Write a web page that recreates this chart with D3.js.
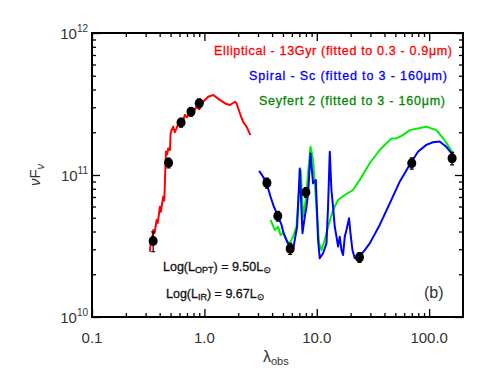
<!DOCTYPE html>
<html>
<head>
<meta charset="utf-8">
<script src="https://cdn.jsdelivr.net/npm/d3@7"></script>
<style>
body { margin: 0; background: #fff; }
text { font-family: "Liberation Sans", "DejaVu Sans", sans-serif; }
</style>
</head>
<body>
<div id="chart"></div>
<script>
// photometry points (micron, nuFnu)
let photLam = [0.35, 0.48, 0.62, 0.76, 0.90, 3.6, 4.5, 5.8, 8.0, 24, 70, 160];
let photFlux = [3.43e10, 1.22e11, 2.34e11, 2.79e11, 3.2e11, 8.8e10, 5.14e10, 3.03e10, 7.55e10, 2.63e10, 1.21e11, 1.31e11];
let photErr = [0.16, 0.08, 0.07, 0.07, 0.07, 0.08, 0.08, 0.09, 0.08, 0.08, 0.09, 0.1];

// elliptical 13 Gyr template
let ellLam = [0.328, 0.335, 0.340, 0.351, 0.360, 0.376, 0.385, 0.402, 0.410, 0.430, 0.440, 0.446, 0.455, 0.466, 0.477, 0.494, 0.500, 0.511, 0.528, 0.545, 0.566, 0.585, 0.606, 0.63, 0.671, 0.70, 0.743, 0.78, 0.852, 0.90, 0.976, 1.08, 1.20, 1.37, 1.57, 1.69, 1.87, 1.93, 2.07, 2.21, 2.37, 2.57];
let ellFlux = [2.88e10, 3.6e10, 3.3e10, 4.1e10, 3.9e10, 4.82e10, 4.6e10, 5.98e10, 5.5e10, 7.03e10, 6.6e10, 9.22e10, 1.46e11, 1.40e11, 1.54e11, 1.50e11, 1.95e11, 2.07e11, 2.19e11, 2.0e11, 2.13e11, 2.3e11, 2.37e11, 2.25e11, 2.65e11, 2.55e11, 2.79e11, 2.70e11, 3.03e11, 2.9e11, 3.28e11, 3.56e11, 3.66e11, 3.38e11, 3.16e11, 3.11e11, 3.28e11, 3.20e11, 2.72e11, 2.37e11, 2.19e11, 1.91e11];

// spiral Sc template
let spLam = [3.07, 3.33, 3.57, 3.88, 4.15, 4.53, 4.86, 5.02, 5.38, 5.75, 6.12, 6.37, 6.68, 7.06, 7.31, 7.46, 7.82, 8.10, 8.37, 8.79, 9.27, 9.80, 10.27, 10.63, 11.38, 12.2, 12.6, 13.05, 13.5, 13.96, 14.45, 14.97, 15.47, 16.01, 16.58, 17.13, 17.74, 18.37, 19.37, 19.93, 20.77, 21.77, 23.29, 26.7, 29.6, 36.3, 44.6, 54.7, 67.1, 79.5, 94.4, 108, 124, 142, 163];
let spFlux = [1.07e11, 9.73e10, 8.74e10, 7.03e10, 5.98e10, 5.09e10, 4.45e10, 3.99e10, 3.48e10, 3.05e10, 2.92e10, 3.48e10, 4.32e10, 1.11e11, 5.67e10, 3.89e10, 5.09e10, 5.98e10, 7.43e10, 1.42e11, 8.74e10, 9.22e10, 3.48e10, 2.59e10, 2.81e10, 3.30e10, 5.98e10, 1.46e11, 7.84e10, 5.98e10, 4.32e10, 3.68e10, 3.13e10, 3.68e10, 2.96e10, 2.73e10, 3.68e10, 4.10e10, 4.96e10, 3.89e10, 2.96e10, 2.59e10, 2.59e10, 2.96e10, 3.30e10, 4.45e10, 6.32e10, 8.97e10, 1.18e11, 1.46e11, 1.63e11, 1.70e11, 1.72e11, 1.58e11, 1.38e11];

// Seyfert 2 template
let syLam = [3.88, 4.23, 4.53, 4.76, 5.02, 5.38, 5.75, 6.16, 6.60, 6.92, 7.21, 7.55, 7.98, 8.37, 8.79, 9.27, 9.60, 9.94, 10.48, 11.01, 11.78, 12.6, 13.96, 15.47, 17.74, 21.0, 24.1, 29.6, 36.3, 46.1, 51.1, 58.5, 67.1, 94.4, 116, 137, 163];
let syFlux = [4.82e10, 4.10e10, 4.32e10, 3.78e10, 3.89e10, 3.48e10, 3.30e10, 3.68e10, 4.32e10, 7.43e10, 1.08e11, 5.09e10, 6.67e10, 1.03e11, 1.58e11, 1.28e11, 8.74e10, 5.98e10, 3.30e10, 2.96e10, 3.48e10, 4.32e10, 5.67e10, 6.67e10, 7.23e10, 7.84e10, 9.22e10, 1.21e11, 1.50e11, 1.81e11, 1.81e11, 1.91e11, 2.07e11, 2.19e11, 2.07e11, 1.76e11, 1.42e11];

let xMajor = [0.1, 1, 10, 100];
let xMajorLabels = ["0.1", "1.0", "10.0", "100.0"];
let xMinor = [0.2, 0.3, 0.4, 0.5, 0.6, 0.7, 0.8, 0.9, 2, 3, 4, 5, 6, 7, 8, 9, 20, 30, 40, 50, 60, 70, 80, 90];
let yMajor = [1e10, 1e11, 1e12];
let yMajorExp = ["10", "11", "12"];
let yMinor = [2e10, 3e10, 4e10, 5e10, 6e10, 7e10, 8e10, 9e10, 2e11, 3e11, 4e11, 5e11, 6e11, 7e11, 8e11, 9e11];

let width = 491, height = 382;
let mLeft = 92, mRight = 463, mTop = 33, mBottom = 317;

let svg = d3.select("#chart").append("svg")
  .attr("width", width)
  .attr("height", height);

let x = d3.scaleLog().domain([0.1, 200]).range([mLeft, mRight]);
let y = d3.scaleLog().domain([1e10, 1e12]).range([mBottom, mTop]);

// ticks, all pointing inward
let drawTicks = (axis, pos, vals, len) => {
  svg.append("g")
    .attr("transform", pos)
    .call(axis.tickValues(vals).tickSize(len).tickSizeOuter(0).tickFormat(""))
    .call(g => g.select(".domain").remove())
    .call(g => g.selectAll("line").attr("stroke", "#000").attr("stroke-width", 1.3));
};
drawTicks(d3.axisBottom(x), "translate(0," + mBottom + ")", xMajor, -8);
drawTicks(d3.axisBottom(x), "translate(0," + mBottom + ")", xMinor, -4);
drawTicks(d3.axisTop(x), "translate(0," + mTop + ")", xMajor, -8);
drawTicks(d3.axisTop(x), "translate(0," + mTop + ")", xMinor, -4);
drawTicks(d3.axisLeft(y), "translate(" + mLeft + ",0)", yMajor, -8);
drawTicks(d3.axisLeft(y), "translate(" + mLeft + ",0)", yMinor, -4);
drawTicks(d3.axisRight(y), "translate(" + mRight + ",0)", yMajor, -8);
drawTicks(d3.axisRight(y), "translate(" + mRight + ",0)", yMinor, -4);

svg.append("rect")
  .attr("x", mLeft).attr("y", mTop)
  .attr("width", mRight - mLeft).attr("height", mBottom - mTop)
  .attr("fill", "none").attr("stroke", "#000").attr("stroke-width", 2);

// tick labels
svg.selectAll(".xlab")
  .data(xMajor)
  .enter().append("text")
  .attr("x", d => x(d))
  .attr("y", mBottom + 26)
  .attr("text-anchor", "middle")
  .attr("font-size", 15)
  .attr("fill", "#333")
  .text((d, i) => xMajorLabels[i]);

let ylab = svg.selectAll(".ylab")
  .data(yMajor)
  .enter().append("text")
  .attr("x", mLeft - 4)
  .attr("y", d => y(d) + 6)
  .attr("text-anchor", "end")
  .attr("font-size", 15)
  .attr("fill", "#333");
ylab.append("tspan").text("10");
ylab.append("tspan").attr("dy", -7).attr("font-size", 10).text((d, i) => yMajorExp[i]);

// axis titles
let yt = svg.append("text")
  .attr("transform", "translate(40,175) rotate(-90)")
  .attr("text-anchor", "middle")
  .attr("font-size", 15)
  .attr("fill", "#333");
yt.append("tspan").attr("font-style", "italic").text("ν");
yt.append("tspan").text("F");
yt.append("tspan").attr("dy", 4).attr("font-size", 11).attr("font-style", "italic").text("ν");

let xt = svg.append("text")
  .attr("x", 263).attr("y", 362)
  .attr("font-size", 16)
  .attr("fill", "#333");
xt.append("tspan").text("λ");
xt.append("tspan").attr("dy", 3).attr("font-size", 11).text("obs");

// template curves
let line = d3.line().x(d => x(d[0])).y(d => y(d[1]));
let curves = [
  {lam: ellLam, flux: ellFlux, color: "#ff0000"},
  {lam: syLam, flux: syFlux, color: "#00ee00"},
  {lam: spLam, flux: spFlux, color: "#0000ff"}
];
svg.selectAll(".curve")
  .data(curves)
  .enter().append("path")
  .attr("d", c => line(d3.zip(c.lam, c.flux)))
  .attr("fill", "none")
  .attr("stroke", c => c.color)
  .attr("stroke-width", 2)
  .attr("stroke-linejoin", "round");

// photometry with error bars
let pts = d3.zip(photLam, photFlux, photErr);
svg.selectAll(".err")
  .data(pts)
  .enter().append("path")
  .attr("d", d => {
    let px = x(d[0]), y0 = y(d[1] * (1 - d[2])), y1 = y(d[1] * (1 + d[2]));
    return "M" + px + "," + y0 + "V" + y1 + "M" + (px - 2) + "," + y0 + "H" + (px + 2) + "M" + (px - 2) + "," + y1 + "H" + (px + 2);
  })
  .attr("stroke", "#000")
  .attr("stroke-width", 1.2);
svg.selectAll(".pt")
  .data(pts)
  .enter().append("ellipse")
  .attr("cx", d => x(d[0]))
  .attr("cy", d => y(d[1]))
  .attr("rx", 4.5)
  .attr("ry", 5)
  .attr("fill", "#000");

// legend
let legend = [
  {t: "Elliptical - 13Gyr (fitted to 0.3 - 0.9μm)", c: "#ff0000", x: 452, y: 55, w: 238},
  {t: "Spiral - Sc (fitted to 3 - 160μm)", c: "#0000ff", x: 447, y: 80, w: 198},
  {t: "Seyfert 2 (fitted to 3 - 160μm)", c: "#008800", x: 445, y: 105, w: 186}
];
svg.selectAll(".leg")
  .data(legend)
  .enter().append("text")
  .attr("x", d => d.x - d.w)
  .attr("y", d => d.y)
  .attr("textLength", d => d.w)
  .attr("lengthAdjust", "spacing")
  .attr("font-size", 12.5)
  .attr("fill", d => d.c)
  .attr("stroke", d => d.c)
  .attr("stroke-width", 0.3)
  .text(d => d.t);

// luminosities
let lopt = svg.append("text").attr("x", 163).attr("y", 271).attr("font-size", 12.5)
  .attr("fill", "#111").attr("stroke", "#111").attr("stroke-width", 0.3);
lopt.append("tspan").text("Log(L");
lopt.append("tspan").attr("font-size", 9).attr("dy", 2).text("OPT");
lopt.append("tspan").attr("dy", -2).text(") = 9.50L");
lopt.append("tspan").attr("font-size", 9).attr("dy", 2).text("⊙");

let lir = svg.append("text").attr("x", 166).attr("y", 298).attr("font-size", 12.5)
  .attr("fill", "#111").attr("stroke", "#111").attr("stroke-width", 0.3);
lir.append("tspan").text("Log(L");
lir.append("tspan").attr("font-size", 9).attr("dy", 2).text("IR");
lir.append("tspan").attr("dy", -2).text(") = 9.67L");
lir.append("tspan").attr("font-size", 9).attr("dy", 2).text("⊙");

svg.append("text")
  .attr("x", 424).attr("y", 298)
  .attr("font-size", 16)
  .attr("fill", "#333")
  .text("(b)");
</script>
</body>
</html>
